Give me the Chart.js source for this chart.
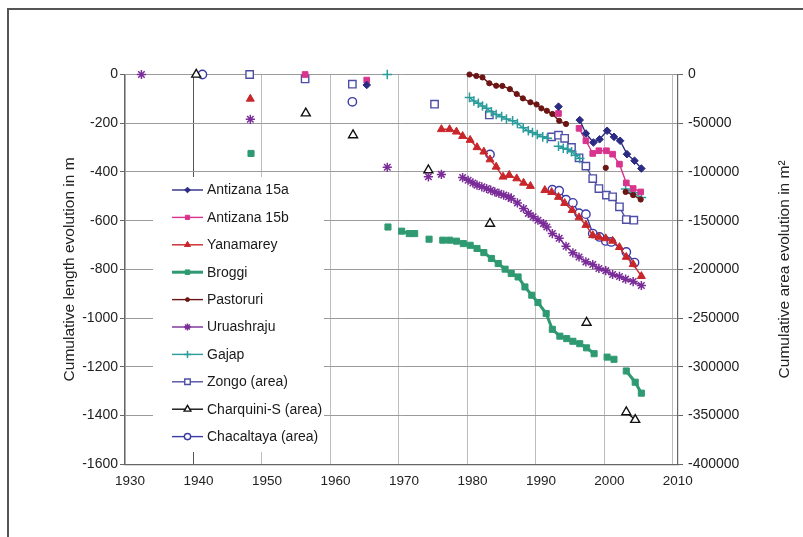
<!DOCTYPE html>
<html><head><meta charset="utf-8">
<script src="https://cdn.jsdelivr.net/npm/chart.js@4/dist/chart.umd.min.js"></script>
<style>html,body{margin:0;padding:0;background:#fff;overflow:hidden}#wrap{width:803px;height:537px;position:relative}</style>
</head><body><div id="wrap"><canvas id="c" width="803" height="537"></canvas></div>
<script>
// ---- Data (years, cumulative length in m; area series in m²). null = gap in the series ----
const seriesNames = ['Antizana 15a','Antizana 15b','Yanamarey','Broggi','Pastoruri','Uruashraju','Gajap','Zongo (area)','Charquini-S (area)','Chacaltaya (area)'];
const xTicks = [1930,1940,1950,1960,1970,1980,1990,2000,2010];
const lengthTicks = [0,-200,-400,-600,-800,-1000,-1200,-1400,-1600];
const areaTicks = [0,-50000,-100000,-150000,-200000,-250000,-300000,-350000,-400000];

const antizana15aYears = [1965.3,null,1993.3,null,1996.4,1997.3,1998.4,1999.3,2000.4,2001.4,2002.3,2003.3,2004.4,2005.4];
const antizana15aValues = [-43,null,-132,null,-187,-242,-279,-266,-231,-256,-272,-327,-354,-386];

const antizana15bYears = [1956.3,null,1965.3,null,1993.3,null,1996.3,1997.3,1998.3,1999.2,2000.3,2001.2,2002.2,2003.2,2004.2,2005.3];
const antizana15bValues = [0,null,-23,null,-160,null,-221,-272,-324,-313,-313,-327,-368,-445,-468,-482];

const yanamareyYears = [1948.3,null,1976.2,1977.4,1978.4,1979.3,1980.4,1981.4,1982.4,1983.3,1984.2,1985.2,1986.1,1987.2,1988.2,1989.2,null,1991.3,1992.3,1993.3,1994.2,1995.3,1996.3,1997.3,1998.3,1999.2,2000.2,2001.2,2002.2,2003.2,2004.2,2005.4];
const yanamareyValues = [-100,null,-225,-225,-235,-253,-269,-299,-317,-349,-379,-420,-413,-427,-445,-458,null,-475,-483,-503,-528,-557,-587,-618,-660,-667,-673,-683,-709,-749,-779,-828];

const broggiYears = [1948.4,null,1968.4,null,1970.4,1971.5,1972.3,null,1974.4,null,1976.4,1977.4,1978.4,1979.4,1980.4,1981.4,1982.4,1983.5,1984.5,1985.5,1986.4,1987.4,1988.4,1989.4,1990.3,1991.5,1992.4,1993.5,1994.5,1995.4,1996.4,1997.4,1998.5,null,2000.4,2001.4,null,2003.2,2004.5,2005.4];
const broggiValues = [-324,null,-626,null,-643,-653,-653,null,-676,null,-680,-680,-684,-694,-701,-714,-731,-755,-776,-799,-817,-831,-872,-906,-936,-981,-1046,-1074,-1084,-1095,-1105,-1122,-1146,null,-1160,-1169,null,-1217,-1263,-1308];

const pastoruriYears = [1980.3,1981.3,1982.2,1983.2,1984.2,1985.1,1986.2,1987.2,1988.1,1989.2,1990.1,1990.8,1991.6,1992.4,1993.4,1994.4,null,2000.2,null,2003.1,2004.2,2005.3];
const pastoruriValues = [0,-6,-12,-36,-46,-47,-60,-80,-98,-114,-123,-139,-149,-162,-190,-203,null,-383,null,-482,-495,-513];

const uruashrajuYears = [1932.4,null,1948.3,null,1968.3,null,1974.3,null,1976.2,null,1979.3,1980.1,1980.8,1981.4,1982.1,1982.8,1983.4,1984.0,1984.6,1985.3,1986.0,1986.4,1987.3,1988.2,1988.9,1989.6,1990.3,1991.1,1991.6,1992.4,1993.4,1994.4,1995.4,1996.3,1997.3,1998.3,1999.2,2000.2,2001.2,2002.2,2003.1,2004.2,2005.4];
const uruashrajuValues = [0,null,-184,null,-381,null,-420,null,-410,null,-423,-434,-445,-454,-461,-468,-475,-482,-488,-495,-502,-509,-527,-550,-570,-584,-598,-612,-626,-653,-672,-705,-732,-749,-769,-780,-796,-805,-821,-829,-840,-850,-866];

const gajapYears = [1968.3,null,1980.3,1980.95,1981.6,1982.2,1982.8,1983.5,1984.2,1985.0,1985.7,1986.6,1987.3,1988.15,1988.9,1989.5,1990.2,1991.0,1991.65,null,1993.3,1994.0,1994.6,1995.2,1995.8,1996.4,null,2003.1,2004.2,2005.4];
const gajapValues = [0,null,-94,-109,-118,-129,-139,-153,-164,-173,-183,-190,-201,-219,-231,-238,-246,-256,-262,null,-294,-303,-307,-317,-331,-345,null,-470,-485,-505];

const zongoYears = [1948.2,null,1956.3,null,1963.2,null,1975.2,null,1983.2,null,1992.3,1993.3,1994.2,1995.2,1996.3,1997.3,1998.3,1999.2,2000.3,2001.2,2002.2,2003.2,2004.3];
const zongoAreas = [0,null,-4600,null,-10000,null,-30500,null,-41500,null,-64000,-62300,-65500,-74800,-85500,-94000,-106800,-117000,-123800,-125500,-135800,-148800,-149500];

const charquiniYears = [1940.4,null,1956.4,null,1963.3,null,1974.3,null,1983.3,null,1997.4,null,2003.2,2004.5];
const charquiniAreas = [0,null,-39800,null,-62200,null,-98200,null,-153000,null,-254600,null,-346500,-354300];

const chacaltayaYears = [1941.3,null,1963.2,null,1983.3,null,1992.4,1993.4,1994.4,1995.4,1996.3,1997.3,1998.3,1999.3,2000.2,2001.0,2003.2,2004.4];
const chacaltayaAreas = [0,null,-28000,null,-82000,null,-118200,-119300,-128500,-131700,-142300,-143300,-163200,-166700,-170800,-171800,-182100,-193000];

// ---- helpers ----
function toPoints(years, vals){
  const pts=[]; let last=years.find(v=>v!==null);
  for(let i=0;i<years.length;i++){
    if(years[i]===null||vals[i]===null){pts.push({x:last,y:null});}
    else {last=years[i]; pts.push({x:years[i],y:vals[i]});}
  }
  return pts;
}
const FONT='"Liberation Sans", Arial, Helvetica, sans-serif';

function mk(label, years, vals, color, style, opts){
  return Object.assign({
    label, data:toPoints(years,vals), borderColor:color, backgroundColor:color,
    pointStyle:style, pointBackgroundColor:color, pointBorderColor:color,
    pointRadius:3.5, pointBorderWidth:1, borderWidth:1.4, showLine:true, spanGaps:false,
    tension:0, yAxisID:'y', pointHoverRadius:0, clip:false
  }, opts||{});
}

const datasets = [
  mk(seriesNames[0], antizana15aYears, antizana15aValues, '#2b2b84', 'rectRot', {pointRadius:3.8}),
  mk(seriesNames[1], antizana15bYears, antizana15bValues, '#d8348e', 'rect', {pointRadius:4}),
  mk(seriesNames[2], yanamareyYears, yanamareyValues, '#c8262a', 'triangle', {pointRadius:4.6}),
  mk(seriesNames[3], broggiYears, broggiValues, '#2f9a72', 'rect', {pointRadius:4.3, borderWidth:3}),
  mk(seriesNames[4], pastoruriYears, pastoruriValues, '#6c1515', 'circle', {pointRadius:2.6}),
  mk(seriesNames[5], uruashrajuYears, uruashrajuValues, '#7a2c98', 'star', {pointRadius:4.6, pointBorderWidth:1.5}),
  mk(seriesNames[6], gajapYears, gajapValues, '#2a9c9c', 'cross', {pointRadius:4.8, pointBorderWidth:1.5}),
  mk(seriesNames[7], zongoYears, zongoAreas, '#4e4ea6', 'rect', {pointRadius:5.2, pointBackgroundColor:'#fff', pointBorderWidth:1.4, yAxisID:'y2'}),
  mk(seriesNames[8], charquiniYears, charquiniAreas, '#111111', 'triangle', {pointRadius:5.2, pointBackgroundColor:'#fff', pointBorderWidth:1.4, yAxisID:'y2'}),
  mk(seriesNames[9], chacaltayaYears, chacaltayaAreas, '#3b3ba8', 'circle', {pointRadius:4.2, pointBackgroundColor:'#fff', pointBorderWidth:1.4, yAxisID:'y2'})
];

function drawMarker(ctx, style, x, y, r, fill, stroke, lw){
  ctx.save();
  ctx.fillStyle=fill; ctx.strokeStyle=stroke; ctx.lineWidth=lw;
  ctx.beginPath();
  if(style==='circle'){ctx.arc(x,y,r,0,Math.PI*2);ctx.closePath();ctx.fill();ctx.stroke();}
  else if(style==='rect'){const s=r*Math.SQRT1_2;ctx.rect(x-s,y-s,2*s,2*s);ctx.fill();ctx.stroke();}
  else if(style==='rectRot'){ctx.moveTo(x,y-r);ctx.lineTo(x+r,y);ctx.lineTo(x,y+r);ctx.lineTo(x-r,y);ctx.closePath();ctx.fill();ctx.stroke();}
  else if(style==='triangle'){const a=Math.PI*2/3;for(let k=0;k<3;k++){const px=x+Math.sin(k*a)*r,py=y-Math.cos(k*a)*r;k?ctx.lineTo(px,py):ctx.moveTo(px,py);}ctx.closePath();ctx.fill();ctx.stroke();}
  else if(style==='cross'){ctx.moveTo(x,y-r);ctx.lineTo(x,y+r);ctx.moveTo(x-r,y);ctx.lineTo(x+r,y);ctx.stroke();}
  else if(style==='star'){ctx.moveTo(x,y-r);ctx.lineTo(x,y+r);ctx.moveTo(x-r,y);ctx.lineTo(x+r,y);const d=r*Math.SQRT1_2;ctx.moveTo(x-d,y-d);ctx.lineTo(x+d,y+d);ctx.moveTo(x-d,y+d);ctx.lineTo(x+d,y-d);ctx.stroke();}
  ctx.restore();
}

const framePlugin = {
  id:'frame',
  beforeDraw(chart){
    const ctx=chart.ctx; ctx.save();
    ctx.fillStyle='#fff'; ctx.fillRect(0,0,chart.width,chart.height);
    ctx.strokeStyle='#555'; ctx.lineWidth=2;
    ctx.beginPath(); ctx.moveTo(8,chart.height); ctx.lineTo(8,9); ctx.lineTo(chart.width,9); ctx.stroke();
    ctx.restore();
  }
};

const legendPlugin = {
  id:'insideLegend',
  beforeDatasetsDraw(chart){
    const ctx=chart.ctx; ctx.save();
    ctx.fillStyle='#fff'; ctx.fillRect(153,177,171,275);
    chart.data.datasets.forEach((ds,i)=>{
      const y=190+i*27.4;
      ctx.strokeStyle=ds.borderColor; ctx.lineWidth=ds.borderWidth;
      ctx.beginPath(); ctx.moveTo(172,y); ctx.lineTo(203,y); ctx.stroke();
      drawMarker(ctx, ds.pointStyle, 187.5, y, ds.pointRadius*0.75, ds.pointBackgroundColor, ds.pointBorderColor, ds.pointBorderWidth);
      ctx.fillStyle='#1a1a1a'; ctx.font='14px '+FONT; ctx.textBaseline='middle'; ctx.textAlign='left';
      ctx.fillText(ds.label, 207, y+0.5);
    });
    ctx.restore();
  }
};

const rightTitlePlugin = {
  id:'rightTitle',
  afterDraw(chart){
    const ctx=chart.ctx, a=chart.chartArea; ctx.save();
    ctx.translate(785,(a.top+a.bottom)/2); ctx.rotate(-Math.PI/2);
    ctx.fillStyle='#222'; ctx.font='15.5px '+FONT; ctx.textAlign='center'; ctx.textBaseline='middle';
    ctx.fillText('Cumulative area evolution in m\u00B2',0,0);
    ctx.restore();
  }
};

const tickFont={size:14,family:FONT};
new Chart(document.getElementById('c'), {
  type:'line',
  data:{datasets},
  options:{
    responsive:false, animation:false, events:[],
    layout:{padding:{left:0,right:0,top:74.5,bottom:0}},
    plugins:{legend:{display:false}, tooltip:{enabled:false}},
    scales:{
      x:{type:'linear', min:xTicks[0], max:2010.75,
        afterBuildTicks(s){ s.ticks = xTicks.map(v=>({value:v})); },
        ticks:{stepSize:10, autoSkip:false, maxRotation:0, callback:v=>String(v), labelOffset:5, padding:9, color:'#222', font:{size:13.5,family:FONT}},
        grid:{color:c=>(c.tick&&c.tick.value===1940)?'#555':'#bdbdbd', lineWidth:1, drawTicks:false},
        border:{color:'#666', width:1.2},
        afterFit(s){ s.height=72.7; }
      },
      y:{type:'linear', position:'left', min:-1600, max:0,
        afterBuildTicks(s){ s.ticks = lengthTicks.map(v=>({value:v})); },
        ticks:{callback:v=>String(v), padding:2, color:'#222', font:tickFont},
        grid:{color:'#9a9a9a', lineWidth:1, tickLength:5, tickColor:'#666'},
        border:{color:'#666', width:1.2},
        title:{display:true, text:'Cumulative length evolution in m', color:'#222', font:{size:15.5,family:FONT}, padding:{top:60.7,bottom:0}},
        afterFit(s){ s.width=125; }
      },
      y2:{type:'linear', position:'right', min:-400000, max:0,
        afterBuildTicks(s){ s.ticks = areaTicks.map(v=>({value:v})); },
        ticks:{callback:v=>String(v), padding:5, color:'#222', font:tickFont},
        grid:{drawOnChartArea:false, tickLength:5, tickColor:'#666'},
        border:{color:'#666', width:1.2},
        afterFit(s){ s.width=125; }
      }
    }
  },
  plugins:[framePlugin, legendPlugin, rightTitlePlugin]
});
</script></body></html>
